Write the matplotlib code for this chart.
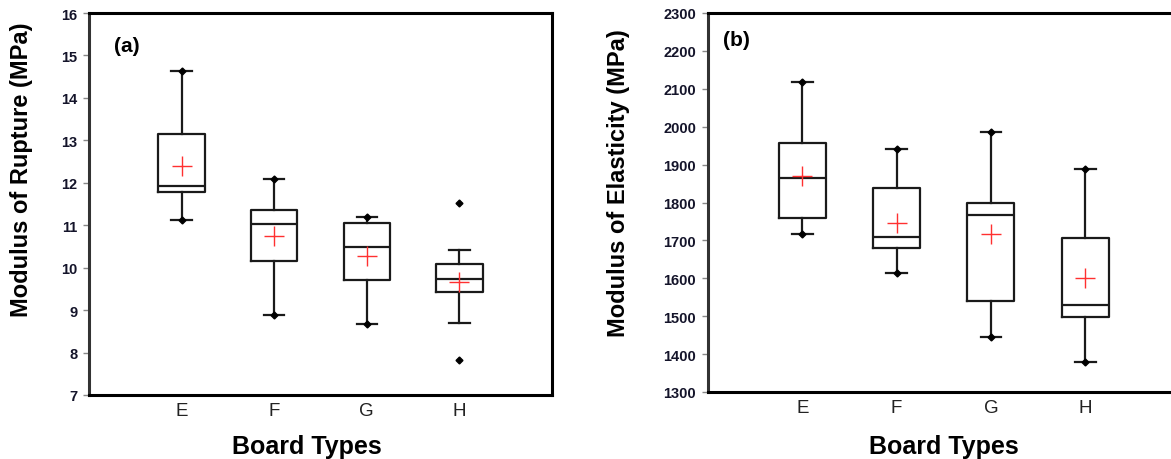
import matplotlib
matplotlib.use("Agg")
import matplotlib.pyplot as plt

plt.rcParams['font.family'] = ['Liberation Sans', 'DejaVu Sans']

categories = ["E", "F", "G", "H"]

# Panel (a): Modulus of Rupture (MPa)
mor_whislo = [11.12, 8.88, 8.68, 8.69]
mor_q1 = [11.79, 10.15, 9.70, 9.43]
mor_med = [11.92, 11.04, 10.48, 9.73]
mor_q3 = [13.15, 11.36, 11.05, 10.09]
mor_whishi = [14.63, 12.09, 11.20, 10.42]
mor_mean = [12.40, 10.75, 10.28, 9.67]
mor_fliers = [[], [], [], [11.52, 7.82]]

# Panel (b): Modulus of Elasticity (MPa)
moe_whislo = [1717, 1615, 1445, 1378]
moe_q1 = [1758, 1679, 1540, 1498]
moe_med = [1865, 1708, 1767, 1530]
moe_q3 = [1958, 1838, 1800, 1706]
moe_whishi = [2117, 1940, 1985, 1888]
moe_mean = [1871, 1746, 1718, 1600]
moe_fliers = [[], [], [], []]

W, H = 1171, 460
fig = plt.figure(figsize=(W / 100, H / 100), dpi=100)

ax1 = fig.add_axes([89 / W, (H - 396) / H, (552 - 89) / W, (396 - 14) / H])
ax2 = fig.add_axes([708 / W, (H - 393) / H, 471.5 / W, (393 - 14) / H])

def draw(ax, wlo, q1, med, q3, whi, mean, fliers, ylim, yticks):
    stats = []
    for i, c in enumerate(categories):
        stats.append(dict(label=c, whislo=wlo[i], q1=q1[i], med=med[i], q3=q3[i],
                          whishi=whi[i], mean=mean[i], fliers=fliers[i]))
    pos = list(range(1, len(categories) + 1))
    ax.bxp(stats, positions=pos, widths=0.5, capwidths=0.22, showmeans=True,
           boxprops=dict(color='#1a1a1a', linewidth=1.6),
           medianprops=dict(color='#1a1a1a', linewidth=1.6),
           whiskerprops=dict(color='#1a1a1a', linewidth=1.6),
           capprops=dict(color='#1a1a1a', linewidth=1.6),
           meanprops=dict(marker='+', markeredgecolor='#ff3030', markersize=14,
                          markeredgewidth=1.0, linestyle='none'),
           flierprops=dict(marker='D', markerfacecolor='black', markeredgecolor='black',
                           markersize=3.5))
    # whisker-end dots (the reference omits them where outliers are shown)
    dpos = [p for p, f in zip(pos, fliers) if not f]
    ax.plot(dpos, [v for v, f in zip(wlo, fliers) if not f], linestyle='none',
            marker='D', color='black', markersize=3.5)
    ax.plot(dpos, [v for v, f in zip(whi, fliers) if not f], linestyle='none',
            marker='D', color='black', markersize=3.5)
    ax.set_xlim(0, 5)
    ax.set_ylim(*ylim)
    ax.set_yticks(yticks)
    ax.set_yticklabels([str(t) for t in yticks], fontsize=10.5, fontweight='bold', color='#14142a')
    ax.set_xticks(pos)
    ax.set_xticklabels(categories, fontsize=13.5, color='#222222')
    ax.tick_params(axis='x', length=0, pad=5)
    ax.tick_params(axis='y', length=4.5, width=1, color='#888888', pad=4)
    for s in ax.spines.values():
        s.set_linewidth(2.2)
        s.set_color('black')
    ax.spines['left'].set_color('#333333')

draw(ax1, mor_whislo, mor_q1, mor_med, mor_q3, mor_whishi, mor_mean, mor_fliers,
     (7, 16), list(range(7, 17)))
draw(ax2, moe_whislo, moe_q1, moe_med, moe_q3, moe_whishi, moe_mean, moe_fliers,
     (1300, 2300), list(range(1300, 2301, 100)))

fig.text(127 / W, 1 - 46 / H, "(a)", fontsize=15, fontweight='bold', ha='center', va='center')
fig.text(736 / W, 1 - 41 / H, "(b)", fontsize=15, fontweight='bold', ha='center', va='center')

fig.text(22 / W, 1 - 170 / H, "Modulus of Rupture (MPa)", rotation=90, fontsize=17,
         fontweight='bold', ha='center', va='center')
fig.text(619 / W, 1 - 183 / H, "Modulus of Elasticity (MPa)", rotation=90, fontsize=17,
         fontweight='bold', ha='center', va='center')

fig.text(307 / W, 1 - 447 / H, "Board Types", fontsize=18, fontweight='bold',
         ha='center', va='center')
fig.text(944 / W, 1 - 447 / H, "Board Types", fontsize=18, fontweight='bold',
         ha='center', va='center')

fig.savefig("out.png", dpi=100)
